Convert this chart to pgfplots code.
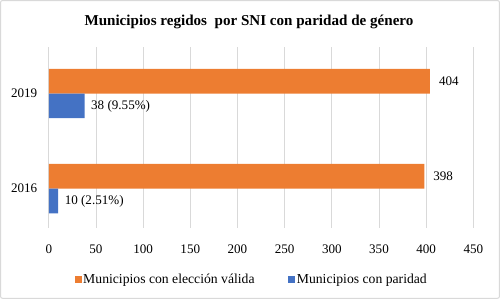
\documentclass[border=0pt]{standalone}
\usepackage{fontspec}
\setmainfont{Liberation Serif}
\usepackage{pgfplots}
\pgfplotsset{compat=1.18}
\definecolor{xlorange}{HTML}{ED7D31}
\definecolor{xlblue}{HTML}{4472C4}
\definecolor{gridgray}{HTML}{D9D9D9}
\begin{document}
\begin{tikzpicture}
\begin{axis}[
  at={(0,0)}, anchor=south west,
  scale only axis,
  width=422bp, height=180bp,
  xmin=0, xmax=450,
  ymin=-0.413, ymax=1.492,
  xtick={0,50,...,450},
  ytick={0,1},
  yticklabels={2016,2019},
  xmajorgrids,
  grid style={gridgray, line width=0.8bp},
  axis line style={draw=none},
  major tick length=0pt,
  /pgf/number format/assume math mode=true,
  tick label style={font=\fontsize{13bp}{15bp}\selectfont},
  xticklabel style={yshift=-13.5bp},
  yticklabel style={xshift=-8bp},
  xbar,
  bar width=0.259,
  nodes near coords,
  point meta=explicit symbolic,
  every node near coord/.append style={font=\fontsize{13bp}{15bp}\selectfont, anchor=west},
  legend image code/.code={\fill[#1] (0bp,-3.5bp) rectangle (7bp,3.5bp);},
  legend style={at={(201.5bp,-51bp)}, anchor=center, draw=none, fill=none,
    legend columns=2, font=\fontsize{13.6bp}{15bp}\selectfont,
    /tikz/every even column/.append style={column sep=32bp},
    inner sep=0pt,
    nodes={inner sep=1.5bp}},
  legend cell align=left,
]
\addplot[fill=xlorange, draw=none, bar shift=0.13,
  every node near coord/.append style={xshift=5.5bp}]
  coordinates {(398,0) [398] (404,1) [404]};
\addlegendentry{Municipios con elección válida}
\addplot[fill=xlblue, draw=none, bar shift=-0.13,
  every node near coord/.append style={xshift=3bp}]
  coordinates {(10,0) [10 (2.51\%)] (38,1) [38 (9.55\%)]};
\addlegendentry{Municipios con paridad}
\end{axis}
\node[font=\bfseries\fontsize{15bp}{17bp}\selectfont] at (199bp,205bp) {Municipios regidos\ \ por SNI con paridad de género};
\draw[gridgray, line width=1bp, rounded corners=2bp] (-48bp,-70bp) rectangle (448bp,226bp);
\end{tikzpicture}
\end{document}
